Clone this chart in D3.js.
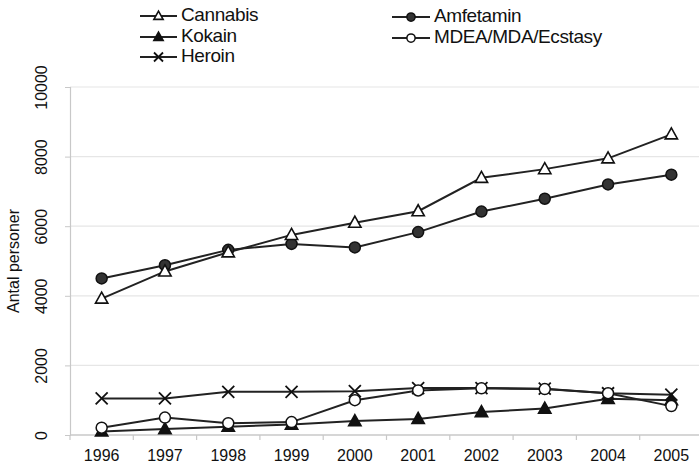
<!DOCTYPE html>
<html><head><meta charset="utf-8">
<script src="https://cdn.jsdelivr.net/npm/d3@7"></script>
<style>body{margin:0;background:#fff}svg{display:block}text{font-family:"Liberation Sans",Arial,sans-serif;fill:#111}</style>
</head><body><svg id="c" width="699" height="466"></svg>
<script>
const years = ["1996","1997","1998","1999","2000","2001","2002","2003","2004","2005"];
const cannabis = [3920, 4700, 5250, 5750, 6100, 6430, 7390, 7640, 7950, 8640];
const amfetamin = [4500, 4880, 5320, 5490, 5390, 5830, 6420, 6790, 7200, 7480];
const kokain = [100, 170, 240, 300, 400, 460, 660, 760, 1040, 1000];
const mdea = [210, 500, 340, 370, 1000, 1280, 1340, 1320, 1200, 830];
const heroin = [1050, 1050, 1240, 1240, 1260, 1350, 1350, 1330, 1200, 1160];
const yTicks = [0, 2000, 4000, 6000, 8000, 10000];
const seriesNames = ["Cannabis","Amfetamin","Kokain","MDEA/MDA/Ecstasy","Heroin"];
const seriesData = [cannabis, amfetamin, kokain, mdea, heroin];
const seriesSym = ["triOpen","circFill","triFill","circOpen","cross"];

const svg = d3.select("#c");
const x = d3.scaleBand().domain(years).range([70, 703]);
const y = d3.scaleLinear().domain([0, 10000]).range([435, 87]);
const FONT = "Liberation Sans, Arial, sans-serif";

// gridlines
svg.append("g").selectAll("line").data(yTicks.slice(1)).join("line")
  .attr("x1", 70).attr("x2", 703).attr("y1", d => y(d)).attr("y2", d => y(d))
  .attr("stroke", "#e6e6e6").attr("stroke-width", 1.2);

// y axis
const ya = svg.append("g").attr("transform", "translate(70,0)")
  .call(d3.axisLeft(y).tickValues(yTicks).tickSize(5).tickFormat(d3.format("d")));
ya.attr("font-size", 16);
ya.select(".domain").attr("stroke", "#c8c8c8").attr("stroke-width", 1.2);
ya.selectAll(".tick line").attr("stroke", "#c8c8c8");
ya.selectAll(".tick text")
  .attr("x", 0).attr("dy", null)
  .attr("text-anchor", "middle")
  .attr("font-size", 16).attr("font-family", FONT)
  .attr("fill", "#111")
  .attr("transform", "translate(-27,0) rotate(-90)")
  .attr("dominant-baseline", "middle");

svg.append("text").attr("transform", `translate(15,${y(5000)}) rotate(-90)`)
  .attr("text-anchor", "middle").attr("dominant-baseline", "middle")
  .attr("font-size", 16).text("Antal personer");

// x axis
const xa = svg.append("g").attr("transform", "translate(0,435)")
  .call(d3.axisBottom(x).tickSize(0).tickPadding(0));
xa.attr("font-size", 16);
xa.select(".domain").remove();
svg.append("line").attr("x1", 70).attr("x2", 703).attr("y1", 435).attr("y2", 435)
  .attr("stroke", "#c8c8c8").attr("stroke-width", 1.4);
svg.append("g").selectAll("line").data(years).join("line")
  .attr("x1", d => x(d)).attr("x2", d => x(d)).attr("y1", 435).attr("y2", 440)
  .attr("stroke", "#c8c8c8").attr("stroke-width", 1.2);
xa.selectAll(".tick text").attr("y", 22).attr("dy", null)
  .attr("dominant-baseline", "middle")
  .attr("font-size", 16).attr("font-family", FONT)
  .attr("fill", "#111");

const cx = d => x(d) + x.bandwidth() / 2;

function drawSymbol(g, type, px, py, s) {
  s = s || 1;
  if (type === "triOpen" || type === "triFill") {
    const h = 6.5 * s;
    g.append("path").attr("d", `M${px},${py - h}L${px + h * 0.95},${py + h * 0.7}L${px - h * 0.95},${py + h * 0.7}Z`)
      .attr("fill", type === "triOpen" ? "#fff" : "#111").attr("stroke", "#111").attr("stroke-width", 1.6);
  } else if (type === "circFill" || type === "circOpen") {
    g.append("circle").attr("cx", px).attr("cy", py).attr("r", 5.5 * s)
      .attr("fill", type === "circOpen" ? "#fff" : "#333").attr("stroke", "#111").attr("stroke-width", 1.5);
  } else if (type === "cross") {
    const r = 6 * s;
    g.append("path").attr("d", `M${px - r},${py - r}L${px + r},${py + r}M${px - r},${py + r}L${px + r},${py - r}`)
      .attr("stroke", "#111").attr("stroke-width", 1.8).attr("fill", "none");
  }
}

const line = d3.line().x((d, i) => cx(years[i])).y(d => y(d));
const order = [4, 2, 3, 1, 0];
order.forEach(k => {
  svg.append("path").attr("d", line(seriesData[k])).attr("fill", "none")
    .attr("stroke", "#222").attr("stroke-width", 2);
});
order.forEach(k => {
  const g = svg.append("g");
  seriesData[k].forEach((v, i) => drawSymbol(g, seriesSym[k], cx(years[i]), y(v)));
});

// legend
const legPos = [[140, 16], [392, 17], [140, 37], [392, 38], [140, 57]];
seriesNames.forEach((name, k) => {
  const [lx, ly] = legPos[k];
  const g = svg.append("g");
  const w = k % 2 === 1 ? 38 : 37;
  g.append("line").attr("x1", lx).attr("x2", lx + w).attr("y1", ly).attr("y2", ly)
    .attr("stroke", "#222").attr("stroke-width", 2);
  drawSymbol(g, seriesSym[k], lx + w / 2, ly, 0.75);
  g.append("text").attr("x", lx + w + 4).attr("y", ly).attr("dominant-baseline", "middle")
    .attr("font-size", 19).attr("letter-spacing", -0.4).text(name);
});
</script></body></html>
